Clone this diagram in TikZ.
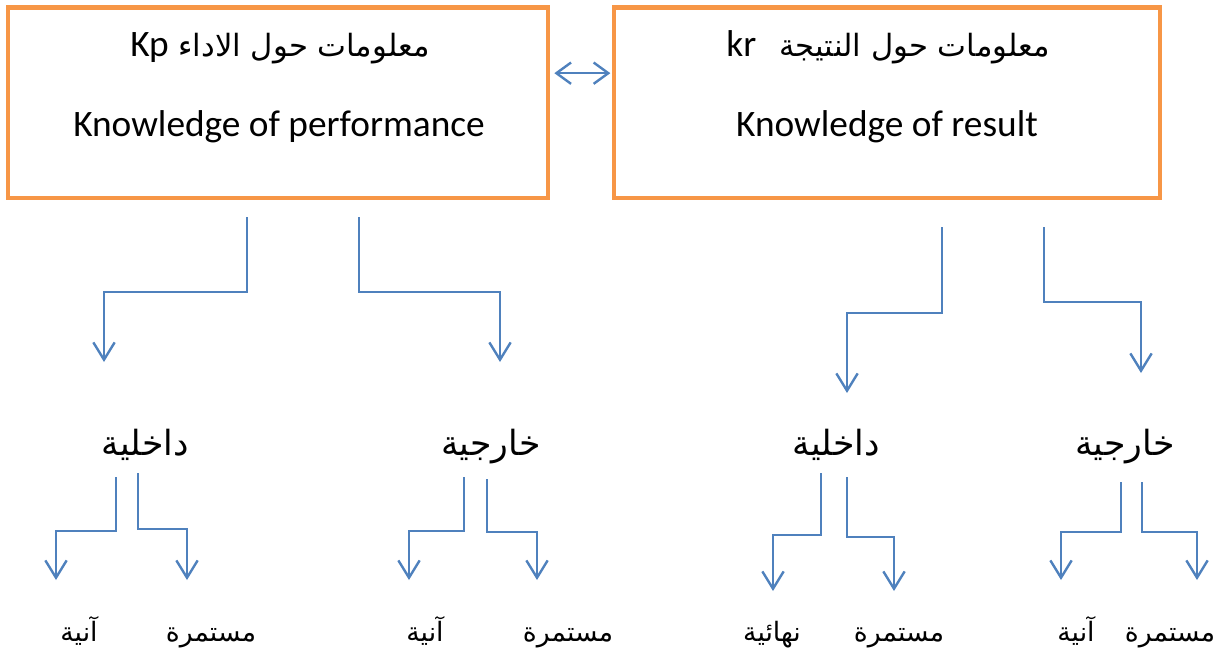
\documentclass[tikz,border=0pt]{standalone}
\usepackage{fontspec}
\setmainfont{Carlito}
\newfontfamily\arabicfont[Script=Arabic]{DejaVu Sans}
\TeXXeTstate=1
\usetikzlibrary{arrows.meta}

\definecolor{boxorange}{HTML}{F79646}
\definecolor{linkblue}{HTML}{4F81BD}

% arabic run, right to left
\newcommand{\artxt}[1]{{\arabicfont\beginR #1\endR}}

\tikzset{
  infobox/.style={draw=boxorange, line width=3.5pt, inner sep=0pt, minimum height=143pt},
  boxtext/.style={inner sep=0pt, font=\fontsize{28}{32}\selectfont},
  boxtitle/.style={inner sep=0pt, anchor=base, font=\fontsize{23}{28}\selectfont},
  kind/.style={inner sep=0pt, anchor=base, font=\fontsize{26}{30}\selectfont},
  timing/.style={inner sep=0pt, anchor=base, font=\fontsize{20}{24}\selectfont},
  branch/.style={draw=linkblue, line width=1.8pt, -{Straight Barb[length=13pt,width=16pt]}},
  mutual/.style={draw=linkblue, line width=1.8pt, {Straight Barb[length=11pt,width=16pt]}-{Straight Barb[length=11pt,width=16pt]}}
}

\begin{document}
\begin{tikzpicture}[x=0.75pt,y=0.75pt,yscale=-1]
\useasboundingbox (0,0) rectangle (1223,654);

%Shape: Rectangle (performance)
\node[infobox, minimum width=405pt] (kp) at (278,102.5) {};
%Shape: Rectangle (result)
\node[infobox, minimum width=409.5pt] (kr) at (887,102.5) {};
% Text Node
\node[boxtitle] (kpar) at (280,56) {\artxt{معلومات حول الاداء \beginL{\fontsize{28}{32}\rmfamily Kp}\endL}};
\node[boxtext] (kpen) at (279,127) {Knowledge of performance};
% Text Node
\node[boxtitle] (krar) at (888,56) {\artxt{معلومات حول النتيجة \hspace{10pt}\beginL{\fontsize{28}{32}\rmfamily kr}\endL}};
\node[boxtext] (kren) at (887,127) {Knowledge of result};

% both ways between the two boxes
\draw[mutual] ([xshift=3pt,yshift=-22pt]kp.east) -- ([xshift=-1pt,yshift=-22pt]kr.west);

% second level
\node[kind] (inKp) at (145,455) {\artxt{داخلية}};
\node[kind] (exKp) at (491,455) {\artxt{خارجية}};
\node[kind] (inKr) at (836,455) {\artxt{داخلية}};
\node[kind] (exKr) at (1125,455) {\artxt{خارجية}};

% third level
\node[timing] (inKpNow) at (79,641) {\artxt{آنية}};
\node[timing] (inKpCont) at (211,641) {\artxt{مستمرة}};
\node[timing] (exKpNow) at (425,641) {\artxt{آنية}};
\node[timing] (exKpCont) at (568,641) {\artxt{مستمرة}};
\node[timing] (inKrEnd) at (772,641) {\artxt{نهائية}};
\node[timing] (inKrCont) at (899,641) {\artxt{مستمرة}};
\node[timing] (exKrNow) at (1076,641) {\artxt{آنية}};
\node[timing] (exKrCont) at (1170,641) {\artxt{مستمرة}};

% ends of the elbow lines
\coordinate (kpA) at (247,217);  \coordinate (kpAend) at (104,362);
\coordinate (kpB) at (359,217);  \coordinate (kpBend) at (500,362);
\coordinate (krA) at (942,227);  \coordinate (krAend) at (847,393);
\coordinate (krB) at (1044,227); \coordinate (krBend) at (1141,373);

\coordinate (inKpA) at (116,477);  \coordinate (inKpAend) at (56,580);
\coordinate (inKpB) at (138,473);  \coordinate (inKpBend) at (187,580);
\coordinate (exKpA) at (464,477);  \coordinate (exKpAend) at (409,580);
\coordinate (exKpB) at (487,479);  \coordinate (exKpBend) at (537,580);
\coordinate (inKrA) at (821,473);  \coordinate (inKrAend) at (773,591);
\coordinate (inKrB) at (847,477);  \coordinate (inKrBend) at (894,591);
\coordinate (exKrA) at (1121,482); \coordinate (exKrAend) at (1061,580);
\coordinate (exKrB) at (1142,482); \coordinate (exKrBend) at (1197,580);

% boxes to second level
\draw[branch] (kpA) -- ++(0,75) -| (kpAend);
\draw[branch] (kpB) -- ++(0,75) -| (kpBend);
\draw[branch] (krA) -- ++(0,86) -| (krAend);
\draw[branch] (krB) -- ++(0,75) -| (krBend);

% second level to third level
\draw[branch] (inKpA) -- ++(0,54) -| (inKpAend);
\draw[branch] (inKpB) -- ++(0,56) -| (inKpBend);
\draw[branch] (exKpA) -- ++(0,54) -| (exKpAend);
\draw[branch] (exKpB) -- ++(0,53) -| (exKpBend);
\draw[branch] (inKrA) -- ++(0,62) -| (inKrAend);
\draw[branch] (inKrB) -- ++(0,60) -| (inKrBend);
\draw[branch] (exKrA) -- ++(0,50) -| (exKrAend);
\draw[branch] (exKrB) -- ++(0,50) -| (exKrBend);
\end{tikzpicture}
\end{document}
